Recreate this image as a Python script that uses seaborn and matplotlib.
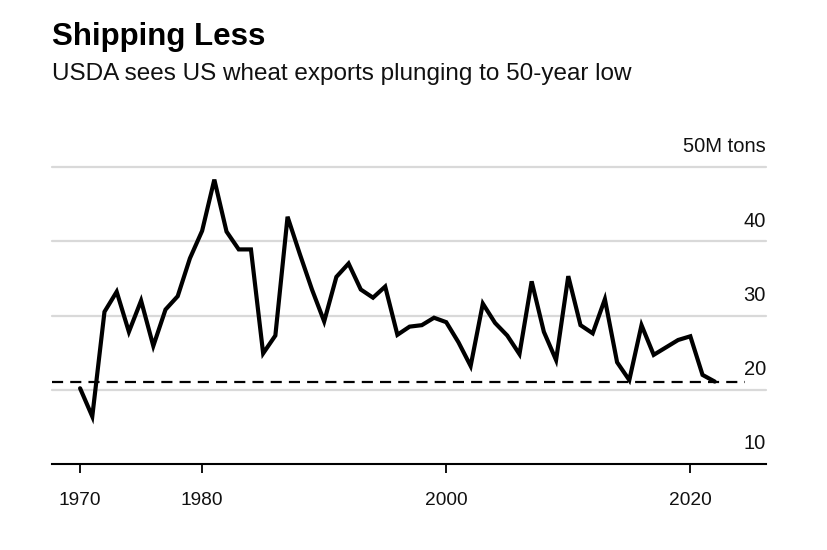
import matplotlib
matplotlib.use("Agg")
import matplotlib.pyplot as plt
import seaborn as sns
import pandas as pd

years = list(range(1970, 2023))
exports = [20.2, 16.4, 30.5, 33.2, 27.8, 32.0, 25.9, 30.8, 32.6, 37.7,
           41.4, 48.3, 41.3, 38.9, 38.9, 24.9, 27.3, 43.3, 38.3, 33.5,
           29.2, 35.2, 37.0, 33.5, 32.4, 33.9, 27.4, 28.5, 28.7, 29.7,
           29.1, 26.4, 23.2, 31.6, 29.0, 27.3, 24.8, 34.6, 27.8, 24.0,
           35.3, 28.7, 27.6, 32.2, 23.7, 21.3, 28.7, 24.7, 25.7, 26.7,
           27.2, 22.0, 21.1]
forecast_low = 21.1
grid_values = [20, 30, 40, 50]
y_labels = ["10", "20", "30", "40", "50M tons"]
y_label_values = [10, 20, 30, 40, 50]
x_ticks = [1970, 1980, 2000, 2020]

df = pd.DataFrame({"year": years, "exports": exports})

sns.set_style("white")
plt.rcParams["font.family"] = ["Liberation Sans", "DejaVu Sans"]

fig = plt.figure(figsize=(8.28, 5.5), dpi=100)
ax = fig.add_axes([52 / 828, 1 - 464 / 550, (766 - 52) / 828, (464 - 167) / 550])
xmin, xmax = 1967.7, 2026.2
ax.set_xlim(xmin, xmax)
ax.set_ylim(10, 50)

for g in grid_values:
    ax.axhline(g, color="#d9d9d9", lw=1.6, zorder=1, clip_on=False)

ax.plot([xmin, 2024.5], [forecast_low, forecast_low], color="black", lw=1.6,
        ls=(0, (5, 3.2)), zorder=2, clip_on=False)

sns.lineplot(data=df, x="year", y="exports", color="black", lw=3.0, ax=ax,
             zorder=3, solid_joinstyle="miter")

for s in ["top", "right", "left"]:
    ax.spines[s].set_visible(False)
ax.spines["bottom"].set_color("black")
ax.spines["bottom"].set_linewidth(1.5)

ax.set_xticks(x_ticks)
ax.set_xticklabels([str(t) for t in x_ticks], fontsize=13.8, color="#111111")
ax.tick_params(axis="x", direction="out", length=6.5, width=1.3, color="black",
               pad=14, bottom=True)
ax.set_yticks([])
ax.set_xlabel("")
ax.set_ylabel("")

for v, lab in zip(y_label_values, y_labels):
    ax.text(xmax, v + 2.7, lab, ha="right", va="center", fontsize=14.5,
            color="#111111")

fig.text(52 / 828, 1 - 37 / 550, "Shipping Less", fontsize=22.5, fontweight="bold",
         ha="left", va="center", color="black")
fig.text(52 / 828, 1 - 74 / 550, "USDA sees US wheat exports plunging to 50-year low",
         fontsize=17.5, ha="left", va="center", color="#111111")

fig.savefig("out.png", dpi=100)
